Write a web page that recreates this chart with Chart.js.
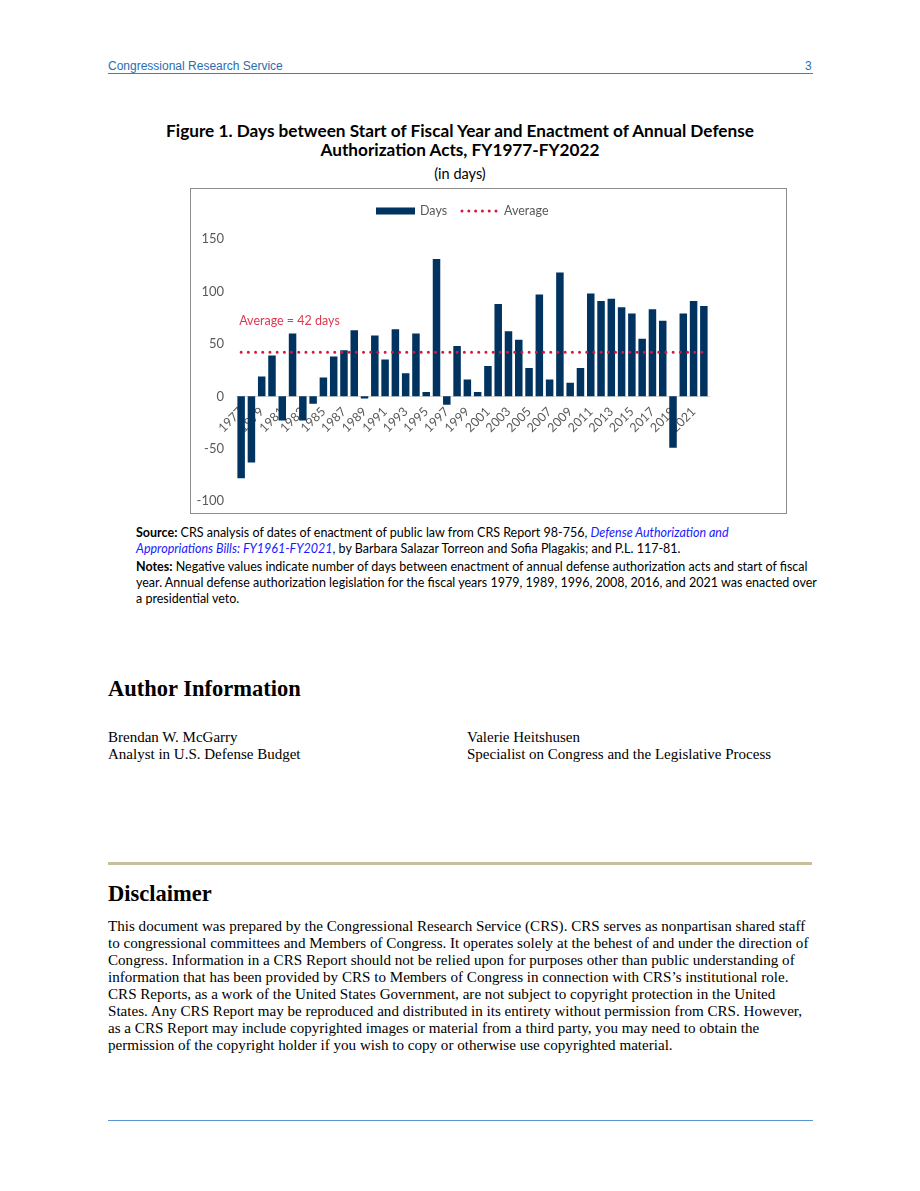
<!DOCTYPE html>
<html>
<head>
<meta charset="utf-8">
<script src="https://cdn.jsdelivr.net/npm/chart.js@4.4.1/dist/chart.umd.min.js"></script>
<style>
    body { margin: 0; background: #fff; }
    #page { position: relative; width: 920px; height: 1191px; overflow: hidden; }
    .abs { position: absolute; white-space: nowrap; }
    .hdr { font-family: "Liberation Sans", Arial, sans-serif; font-size: 12px; color: #2a6db0; line-height: 14px; }
    .cap { font-family: Lato, "Open Sans", sans-serif; font-size: 12.5px; color: #000; line-height: 16px; }
    .serif { font-family: "Liberation Serif", "Times New Roman", serif; color: #000; }
    a { color: #1a1aff; text-decoration: none; font-style: italic; }
</style>
</head>
<body>
<div id="page">
    <div class="abs hdr" style="left:108px; top:59px;">Congressional Research Service</div>
    <div class="abs hdr" style="left:805px; top:59px;">3</div>
    <div class="abs" style="left:108px; top:73px; width:705px; height:1px; background:#3f7fbf;"></div>

    <div class="abs" style="left:0; width:920px; top:121px; text-align:center; font-family: Lato, sans-serif; font-weight:bold; font-size:17.2px; line-height:19px;">
        Figure 1. Days between Start of Fiscal Year and Enactment of Annual Defense<br>Authorization Acts, FY1977-FY2022
    </div>
    <div class="abs" style="left:0; width:920px; top:165px; text-align:center; font-family: Lato, sans-serif; font-size:14.5px; line-height:17px;">(in days)</div>

    <div class="abs" style="left:190px; top:188px; width:595px; height:324px; border:1px solid #8c8c8c;">
        <canvas id="daysChart"></canvas>
    </div>

    <div class="abs cap" style="left:136px; top:525px;">
        <b>Source:</b> CRS analysis of dates of enactment of public law from CRS Report 98-756, <a>Defense Authorization and</a><br><a>Appropriations Bills: FY1961-FY2021</a>, by Barbara Salazar Torreon and Sofia Plagakis; and P.L. 117-81.
    </div>
    <div class="abs cap" style="left:136px; top:559px;">
        <b>Notes:</b> Negative values indicate number of days between enactment of annual defense authorization acts and start of fiscal<br>year. Annual defense authorization legislation for the fiscal years 1979, 1989, 1996, 2008, 2016, and 2021 was enacted over<br>a presidential veto.
    </div>

    <div class="abs serif" style="left:108px; top:676px; font-size:22.5px; font-weight:bold; line-height:26px;">Author Information</div>
    <div class="abs serif" style="left:108px; top:729px; font-size:15px; line-height:16.5px;">Brendan W. McGarry<br>Analyst in U.S. Defense Budget</div>
    <div class="abs serif" style="left:467px; top:729px; font-size:15px; line-height:16.5px;">Valerie Heitshusen<br>Specialist on Congress and the Legislative Process</div>

    <div class="abs" style="left:108px; top:862px; width:704px; height:3px; background:#c5bf9f;"></div>
    <div class="abs serif" style="left:108px; top:881px; font-size:22.5px; font-weight:bold; line-height:26px;">Disclaimer</div>
    <div class="abs serif" style="left:108px; top:918px; font-size:15.1px; line-height:17px;">
        This document was prepared by the Congressional Research Service (CRS). CRS serves as nonpartisan shared staff<br>
        to congressional committees and Members of Congress. It operates solely at the behest of and under the direction of<br>
        Congress. Information in a CRS Report should not be relied upon for purposes other than public understanding of<br>
        information that has been provided by CRS to Members of Congress in connection with CRS’s institutional role.<br>
        CRS Reports, as a work of the United States Government, are not subject to copyright protection in the United<br>
        States. Any CRS Report may be reproduced and distributed in its entirety without permission from CRS. However,<br>
        as a CRS Report may include copyrighted images or material from a third party, you may need to obtain the<br>
        permission of the copyright holder if you wish to copy or otherwise use copyrighted material.
    </div>

    <div class="abs" style="left:108px; top:1120px; width:705px; height:1px; background:#5b95cf;"></div>
</div>

<script>
// fiscal years 1977-2022
const years = [
    '1977', '1978', '1979', '1980', '1981', '1982', '1983', '1984', '1985', '1986',
    '1987', '1988', '1989', '1990', '1991', '1992', '1993', '1994', '1995', '1996',
    '1997', '1998', '1999', '2000', '2001', '2002', '2003', '2004', '2005', '2006',
    '2007', '2008', '2009', '2010', '2011', '2012', '2013', '2014', '2015', '2016',
    '2017', '2018', '2019', '2020', '2021', '2022'
];
// days between start of fiscal year and enactment
const days = [
    -78, -63, 19, 39, -23, 60, -23, -7, 18, 38,
    44, 63, -2, 58, 35, 64, 22, 60, 4, 131,
    -8, 48, 16, 4, 29, 88, 62, 54, 27, 97,
    16, 118, 13, 27, 98, 91, 93, 85, 79, 55,
    83, 72, -49, 79, 91, 86
];
const averageDays = 42;
const averageLine = years.map(() => averageDays);
const yTicks = [-100, -50, 0, 50, 100, 150];

const navy = '#00335f';
const red = '#d8173f';
const greyText = '#595959';
const chartFont = 'Lato, "Open Sans", sans-serif';

// legend + "Average = 42 days" note
const extrasPlugin = {
    id: 'extras',
    afterDatasetsDraw(chart) {
        const ctx = chart.ctx;
        const y = chart.scales.y;
        const x = chart.scales.x;
        ctx.save();
        ctx.font = '12.5px ' + chartFont;
        ctx.textBaseline = 'middle';
        ctx.fillStyle = '#e0384f';
        ctx.fillText('Average = ' + averageDays + ' days', x.getPixelForValue(0) - 2, y.getPixelForValue(averageDays) - 31);

        // legend
        const ly = 22;
        ctx.fillStyle = navy;
        ctx.fillRect(185, ly - 3.5, 39, 7);
        ctx.fillStyle = greyText;
        ctx.fillText('Days', 229, ly);
        ctx.fillStyle = red;
        for (let i = 0; i < 6; i++) {
            ctx.beginPath();
            ctx.arc(271 + i * 6.8, ly, 1.5, 0, Math.PI * 2);
            ctx.fill();
        }
        ctx.fillStyle = greyText;
        ctx.fillText('Average', 313, ly);
        ctx.restore();
    }
};

const ctx = document.getElementById('daysChart').getContext('2d');
new Chart(ctx, {
    data: {
        labels: years,
        datasets: [{
            type: 'line',
            label: 'Average',
            data: averageLine,
            borderColor: red,
            borderWidth: 3,
            borderDash: [0, 7.2],
            borderCapStyle: 'round',
            pointRadius: 0,
            order: 0
        }, {
            type: 'bar',
            label: 'Days',
            data: days,
            backgroundColor: navy,
            categoryPercentage: 1,
            barPercentage: 0.73,
            order: 1
        }]
    },
    options: {
        responsive: true,
        maintainAspectRatio: false,
        animation: false,
        layout: {
            padding: { top: 50, right: 77, bottom: 11, left: 0 }
        },
        plugins: {
            legend: { display: false },
            tooltip: { enabled: false }
        },
        scales: {
            x: {
                position: { y: 0 },
                grid: { display: false },
                border: { display: true, color: '#d9d9d9', width: 1 },
                ticks: {
                    autoSkip: false,
                    minRotation: 45,
                    maxRotation: 45,
                    padding: 0,
                    color: greyText,
                    font: { family: chartFont, size: 12.5 },
                    callback: function(value, index) {
                        return index % 2 === 0 ? years[index] : '';
                    }
                }
            },
            y: {
                min: -100,
                max: 150,
                grid: { display: false },
                border: { display: false },
                afterBuildTicks: function(scale) {
                    scale.ticks = yTicks.map(v => ({ value: v }));
                },
                afterFit: function(scale) {
                    scale.width = 45;
                },
                ticks: {
                    padding: 4,
                    color: greyText,
                    font: { family: chartFont, size: 13 }
                }
            }
        }
    },
    plugins: [extrasPlugin]
});
</script>
</body>
</html>
